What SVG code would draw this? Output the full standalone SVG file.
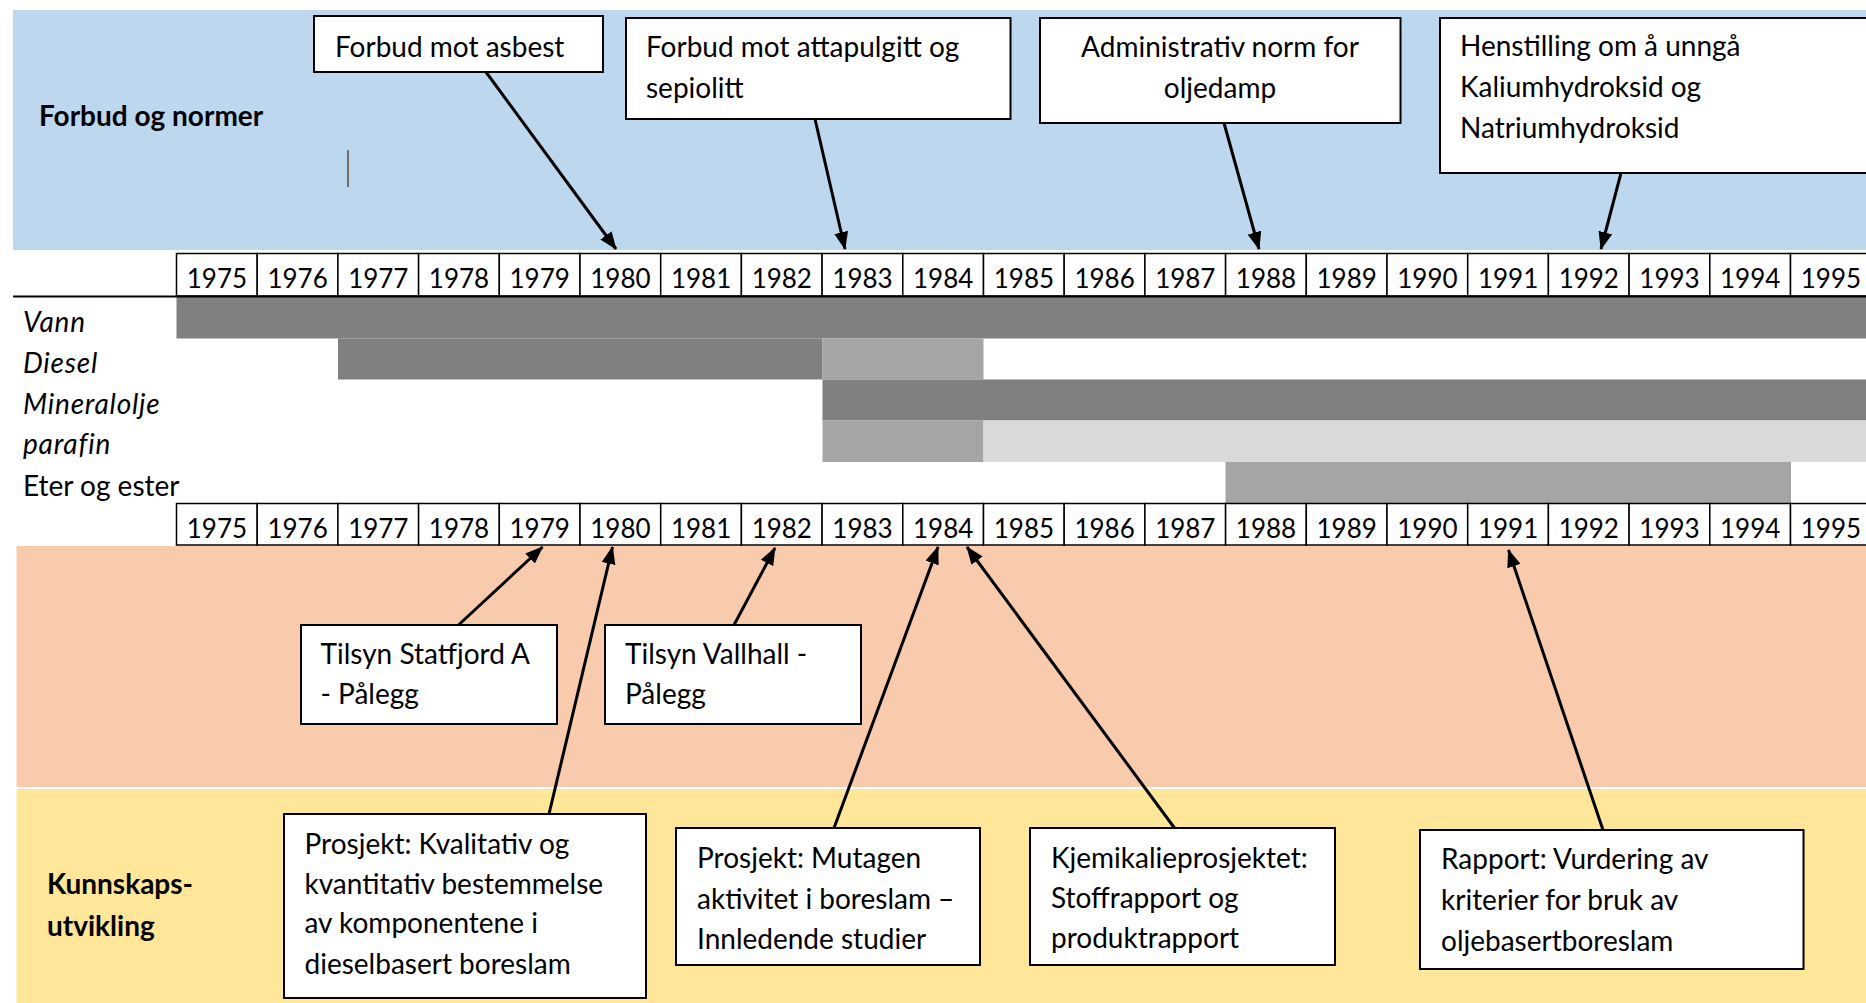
<svg xmlns="http://www.w3.org/2000/svg" width="1866" height="1003" viewBox="0 0 1866 1003">
<style>
.t{font-family:Lato,"Open Sans",sans-serif;font-size:28px;fill:#000}
.b{font-weight:bold}
.i{font-style:italic;letter-spacing:0.8px}
.y{font-family:Lato,"Open Sans",sans-serif;font-size:26px;fill:#000;text-anchor:middle}
.box{fill:#fff;stroke:#000;stroke-width:2}
.cell{fill:#fff;stroke:#000;stroke-width:1.5}
.arr{stroke:#000;stroke-width:3;fill:none;marker-end:url(#ah)}
.dk{fill:#808080}.md{fill:#a5a5a5}.lt{fill:#d9d9d9}
</style>
<defs>
<marker id="ah" markerUnits="userSpaceOnUse" markerWidth="18" markerHeight="14" viewBox="0 0 18 14" refX="17" refY="7" orient="auto">
<path d="M0,0 L18,7 L0,14 z" fill="#000"/>
</marker>
</defs>
<rect width="1866" height="1003" fill="#fff"/>
<g id="bands">
<rect x="13" y="10" width="1853" height="240" fill="#bdd7ee"/>
<rect x="16.5" y="546" width="1850" height="241" fill="#f8cbad"/>
<rect x="16.5" y="789" width="1850" height="214" fill="#ffe699"/>
<line x1="348" y1="150" x2="348" y2="187" stroke="#5b4b3b" stroke-width="1.5"/>
<text class="t b" x="39" y="126">Forbud og normer</text>
<text class="t b" x="47" y="894">Kunnskaps-</text>
<text class="t b" x="47" y="936">utvikling</text>
</g>
<g id="bars">
<rect class="dk" x="176.5" y="297" width="1690" height="41.5"/>
<rect class="dk" x="338" y="338.5" width="484.5" height="41"/>
<rect class="md" x="822.5" y="338.5" width="161" height="41"/>
<rect class="dk" x="822.5" y="379.5" width="1044" height="41"/>
<rect class="md" x="822.5" y="420.5" width="161" height="41.5"/>
<rect class="lt" x="983.5" y="420.5" width="883" height="41.5"/>
<rect class="md" x="1225.5" y="462" width="565.5" height="41"/>
<text class="t i" x="23" y="332">Vann</text>
<text class="t i" x="23" y="373">Diesel</text>
<text class="t i" x="23" y="414">Mineralolje</text>
<text class="t i" x="23" y="454">parafin</text>
<text class="t" x="23" y="496">Eter og ester</text>
</g>
<g id="years-top">
<rect class="cell" x="176.5" y="253.5" width="80.7" height="42.5"/><text class="y" x="216.9" y="287.5">1975</text>
<rect class="cell" x="257.2" y="253.5" width="80.7" height="42.5"/><text class="y" x="297.6" y="287.5">1976</text>
<rect class="cell" x="337.9" y="253.5" width="80.7" height="42.5"/><text class="y" x="378.3" y="287.5">1977</text>
<rect class="cell" x="418.6" y="253.5" width="80.7" height="42.5"/><text class="y" x="459" y="287.5">1978</text>
<rect class="cell" x="499.3" y="253.5" width="80.7" height="42.5"/><text class="y" x="539.7" y="287.5">1979</text>
<rect class="cell" x="580" y="253.5" width="80.7" height="42.5"/><text class="y" x="620.4" y="287.5">1980</text>
<rect class="cell" x="660.7" y="253.5" width="80.7" height="42.5"/><text class="y" x="701.1" y="287.5">1981</text>
<rect class="cell" x="741.4" y="253.5" width="80.7" height="42.5"/><text class="y" x="781.8" y="287.5">1982</text>
<rect class="cell" x="822.1" y="253.5" width="80.7" height="42.5"/><text class="y" x="862.5" y="287.5">1983</text>
<rect class="cell" x="902.8" y="253.5" width="80.7" height="42.5"/><text class="y" x="943.2" y="287.5">1984</text>
<rect class="cell" x="983.5" y="253.5" width="80.7" height="42.5"/><text class="y" x="1023.9" y="287.5">1985</text>
<rect class="cell" x="1064.2" y="253.5" width="80.7" height="42.5"/><text class="y" x="1104.6" y="287.5">1986</text>
<rect class="cell" x="1144.9" y="253.5" width="80.7" height="42.5"/><text class="y" x="1185.3" y="287.5">1987</text>
<rect class="cell" x="1225.6" y="253.5" width="80.7" height="42.5"/><text class="y" x="1266" y="287.5">1988</text>
<rect class="cell" x="1306.3" y="253.5" width="80.7" height="42.5"/><text class="y" x="1346.7" y="287.5">1989</text>
<rect class="cell" x="1387" y="253.5" width="80.7" height="42.5"/><text class="y" x="1427.4" y="287.5">1990</text>
<rect class="cell" x="1467.7" y="253.5" width="80.7" height="42.5"/><text class="y" x="1508.1" y="287.5">1991</text>
<rect class="cell" x="1548.4" y="253.5" width="80.7" height="42.5"/><text class="y" x="1588.8" y="287.5">1992</text>
<rect class="cell" x="1629.1" y="253.5" width="80.7" height="42.5"/><text class="y" x="1669.5" y="287.5">1993</text>
<rect class="cell" x="1709.8" y="253.5" width="80.7" height="42.5"/><text class="y" x="1750.2" y="287.5">1994</text>
<rect class="cell" x="1790.5" y="253.5" width="80.7" height="42.5"/><text class="y" x="1830.9" y="287.5">1995</text>
<line x1="13" y1="296.5" x2="1866" y2="296.5" stroke="#000" stroke-width="2"/>
</g>
<g id="years-bottom">
<rect class="cell" x="176.5" y="503.5" width="80.7" height="41.5"/><text class="y" x="216.9" y="537.5">1975</text>
<rect class="cell" x="257.2" y="503.5" width="80.7" height="41.5"/><text class="y" x="297.6" y="537.5">1976</text>
<rect class="cell" x="337.9" y="503.5" width="80.7" height="41.5"/><text class="y" x="378.3" y="537.5">1977</text>
<rect class="cell" x="418.6" y="503.5" width="80.7" height="41.5"/><text class="y" x="459" y="537.5">1978</text>
<rect class="cell" x="499.3" y="503.5" width="80.7" height="41.5"/><text class="y" x="539.7" y="537.5">1979</text>
<rect class="cell" x="580" y="503.5" width="80.7" height="41.5"/><text class="y" x="620.4" y="537.5">1980</text>
<rect class="cell" x="660.7" y="503.5" width="80.7" height="41.5"/><text class="y" x="701.1" y="537.5">1981</text>
<rect class="cell" x="741.4" y="503.5" width="80.7" height="41.5"/><text class="y" x="781.8" y="537.5">1982</text>
<rect class="cell" x="822.1" y="503.5" width="80.7" height="41.5"/><text class="y" x="862.5" y="537.5">1983</text>
<rect class="cell" x="902.8" y="503.5" width="80.7" height="41.5"/><text class="y" x="943.2" y="537.5">1984</text>
<rect class="cell" x="983.5" y="503.5" width="80.7" height="41.5"/><text class="y" x="1023.9" y="537.5">1985</text>
<rect class="cell" x="1064.2" y="503.5" width="80.7" height="41.5"/><text class="y" x="1104.6" y="537.5">1986</text>
<rect class="cell" x="1144.9" y="503.5" width="80.7" height="41.5"/><text class="y" x="1185.3" y="537.5">1987</text>
<rect class="cell" x="1225.6" y="503.5" width="80.7" height="41.5"/><text class="y" x="1266" y="537.5">1988</text>
<rect class="cell" x="1306.3" y="503.5" width="80.7" height="41.5"/><text class="y" x="1346.7" y="537.5">1989</text>
<rect class="cell" x="1387" y="503.5" width="80.7" height="41.5"/><text class="y" x="1427.4" y="537.5">1990</text>
<rect class="cell" x="1467.7" y="503.5" width="80.7" height="41.5"/><text class="y" x="1508.1" y="537.5">1991</text>
<rect class="cell" x="1548.4" y="503.5" width="80.7" height="41.5"/><text class="y" x="1588.8" y="537.5">1992</text>
<rect class="cell" x="1629.1" y="503.5" width="80.7" height="41.5"/><text class="y" x="1669.5" y="537.5">1993</text>
<rect class="cell" x="1709.8" y="503.5" width="80.7" height="41.5"/><text class="y" x="1750.2" y="537.5">1994</text>
<rect class="cell" x="1790.5" y="503.5" width="80.7" height="41.5"/><text class="y" x="1830.9" y="537.5">1995</text>
</g>
<g id="connectors">
<line class="arr" x1="486" y1="72" x2="616" y2="249"/>
<line class="arr" x1="815" y1="119" x2="845" y2="249"/>
<line class="arr" x1="1224" y1="123" x2="1259" y2="249"/>
<line class="arr" x1="1621" y1="173" x2="1601" y2="249"/>
<line class="arr" x1="458.5" y1="625" x2="542.5" y2="547"/>
<line class="arr" x1="549" y1="814" x2="612.5" y2="547"/>
<line class="arr" x1="734" y1="625" x2="775" y2="548"/>
<line class="arr" x1="834" y1="828" x2="938" y2="547"/>
<line class="arr" x1="1174.5" y1="828" x2="967" y2="547"/>
<line class="arr" x1="1603" y1="830" x2="1508.5" y2="550"/>
</g>
<g id="n-asbest"><rect class="box" x="314" y="16" width="289" height="56"/><text class="t" x="335" y="57">Forbud mot asbest</text></g>
<g id="n-attapulgitt"><rect class="box" x="626" y="18" width="384.5" height="101"/><text class="t" x="646" y="57">Forbud mot attapulgitt og</text><text class="t" x="646" y="98">sepiolitt</text></g>
<g id="n-oljedamp"><rect class="box" x="1040" y="18" width="360.5" height="105"/><text class="t" x="1220" y="57" text-anchor="middle">Administrativ norm for</text><text class="t" x="1220" y="98" text-anchor="middle">oljedamp</text></g>
<g id="n-henstilling"><rect class="box" x="1440" y="18" width="440" height="155"/><text class="t" x="1460" y="56">Henstilling om å unngå</text><text class="t" x="1460" y="97">Kaliumhydroksid og</text><text class="t" x="1460" y="138">Natriumhydroksid</text></g>
<g id="n-statfjord"><rect class="box" x="301" y="625" width="256" height="99"/><text class="t" x="320.5" y="664">Tilsyn Statfjord A</text><text class="t" x="320.5" y="704">- Pålegg</text></g>
<g id="n-vallhall"><rect class="box" x="605" y="625" width="256" height="99"/><text class="t" x="625" y="664">Tilsyn Vallhall -</text><text class="t" x="625" y="704">Pålegg</text></g>
<g id="n-kvalitativ"><rect class="box" x="284" y="814" width="362" height="184"/><text class="t" x="304.5" y="854">Prosjekt: Kvalitativ og</text><text class="t" x="304.5" y="894">kvantitativ bestemmelse</text><text class="t" x="304.5" y="933">av komponentene i</text><text class="t" x="304.5" y="974">dieselbasert boreslam</text></g>
<g id="n-mutagen"><rect class="box" x="676" y="828" width="304" height="137"/><text class="t" x="697" y="868">Prosjekt: Mutagen</text><text class="t" x="697" y="909">aktivitet i boreslam –</text><text class="t" x="697" y="949">Innledende studier</text></g>
<g id="n-kjemikalie"><rect class="box" x="1030" y="828" width="305" height="137"/><text class="t" x="1051" y="868">Kjemikalieprosjektet:</text><text class="t" x="1051" y="908">Stoffrapport og</text><text class="t" x="1051" y="948">produktrapport</text></g>
<g id="n-rapport"><rect class="box" x="1420" y="830" width="383.5" height="139"/><text class="t" x="1441" y="869">Rapport: Vurdering av</text><text class="t" x="1441" y="910">kriterier for bruk av</text><text class="t" x="1441" y="951">oljebasertboreslam</text></g>
</svg>
